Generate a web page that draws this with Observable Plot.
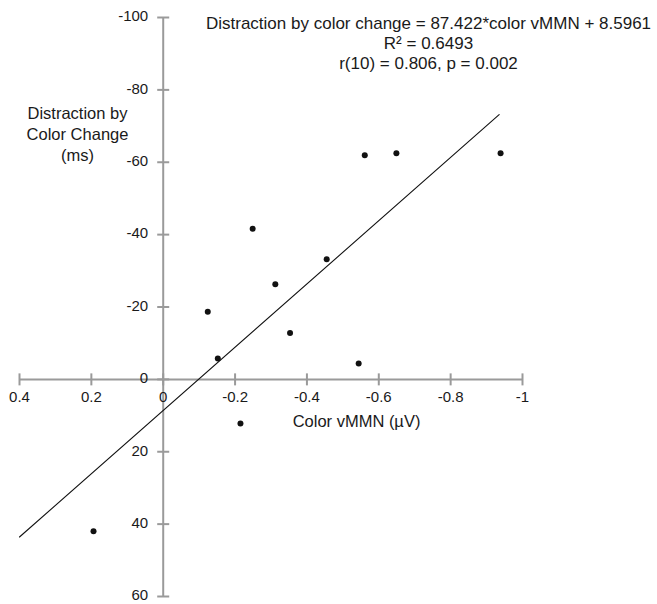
<!DOCTYPE html>
<html><head><meta charset="utf-8">
<script src="https://cdn.jsdelivr.net/npm/d3@7"></script>
<script src="https://cdn.jsdelivr.net/npm/@observablehq/plot@0.6"></script>
<style>body{margin:0;background:#fff}</style>
</head><body><div id="chart"></div>
<script>
// Data
const colorVMMN = [-0.124, -0.152, -0.249, -0.312, -0.353, -0.455, -0.544, -0.561, -0.649, -0.939, -0.215, 0.194];
const distraction = [-18.7, -5.8, -41.6, -26.3, -12.8, -33.2, -4.4, -61.9, -62.5, -62.5, 12.2, 42.0];
const xTicks = [0.4, 0.2, 0, -0.2, -0.4, -0.6, -0.8, -1];
const yTicks = [-100, -80, -60, -40, -20, 0, 20, 40, 60];
const slope = 87.422, intercept = 8.5961;
const fitRange = [0.4, -0.935];
const equationLines = ["Distraction by color change = 87.422*color vMMN + 8.5961", "R\u00B2 = 0.6493", "r(10) = 0.806, p = 0.002"];
const yTitle = ["Distraction by", "Color Change", "(ms)"];
const xTitle = "Color vMMN (\u00B5V)";

const points = colorVMMN.map((x, i) => ({x, y: distraction[i]}));
const fit = fitRange.map(x => ({x, y: slope * x + intercept}));

const axisColor = "#9a9a9a";
const textColor = "#1a1a1a";
const vTick = {draw(ctx, size) { const r = Math.sqrt(size / Math.PI); ctx.moveTo(0, -r); ctx.lineTo(0, r); }};
const hTick = {draw(ctx, size) { const r = Math.sqrt(size / Math.PI); ctx.moveTo(-r, 0); ctx.lineTo(r, 0); }};

const chart = Plot.plot({
  width: 657,
  height: 604,
  marginLeft: 19,
  marginRight: 135,
  marginTop: 17,
  marginBottom: 8,
  style: {fontFamily: "'Liberation Sans', Arial, sans-serif", fontSize: "15px", color: textColor, background: "#fff", overflow: "visible"},
  x: {domain: [xTicks[0], xTicks[xTicks.length - 1]], axis: null},
  y: {domain: [yTicks[yTicks.length - 1], yTicks[0]], axis: null},
  marks: [
    Plot.ruleY([0], {x1: xTicks[0], x2: xTicks[xTicks.length - 1], stroke: axisColor, strokeWidth: 2}),
    Plot.ruleX([0], {y1: yTicks[0], y2: yTicks[yTicks.length - 1], stroke: axisColor, strokeWidth: 2}),
    Plot.dot(xTicks, {x: d => d, y: 0, symbol: vTick, r: 6, stroke: axisColor, strokeWidth: 2, fill: "none"}),
    Plot.dot(yTicks, {x: 0, y: d => d, symbol: hTick, r: 6, stroke: axisColor, strokeWidth: 2, fill: "none"}),
    Plot.text(xTicks, {x: d => d, y: 0, text: d => String(d), dy: 18, fill: textColor, fontSize: 15}),
    Plot.text(yTicks, {x: 0, y: d => d, text: d => String(d), dx: -15, dy: -1, textAnchor: "end", fill: textColor, fontSize: 15}),
    Plot.line(fit, {x: "x", y: "y", stroke: "#111", strokeWidth: 1.1}),
    Plot.dot(points, {x: "x", y: "y", r: 3, fill: "#111", stroke: "none"}),
    Plot.text([equationLines.join("\n")], {frameAnchor: "top-left", dx: 409, dy: 25, lineAnchor: "middle", textAnchor: "middle", lineHeight: 1.176, fill: textColor, fontSize: 17}),
    Plot.text([yTitle.join("\n")], {frameAnchor: "top-left", dx: 58, dy: 116, lineAnchor: "middle", textAnchor: "middle", lineHeight: 1.27, fill: textColor, fontSize: 16.5}),
    Plot.text([xTitle], {frameAnchor: "top-left", dx: 337, dy: 398, textAnchor: "middle", fill: textColor, fontSize: 16.5})
  ]
});
document.getElementById("chart").append(chart);
</script>
</body></html>
